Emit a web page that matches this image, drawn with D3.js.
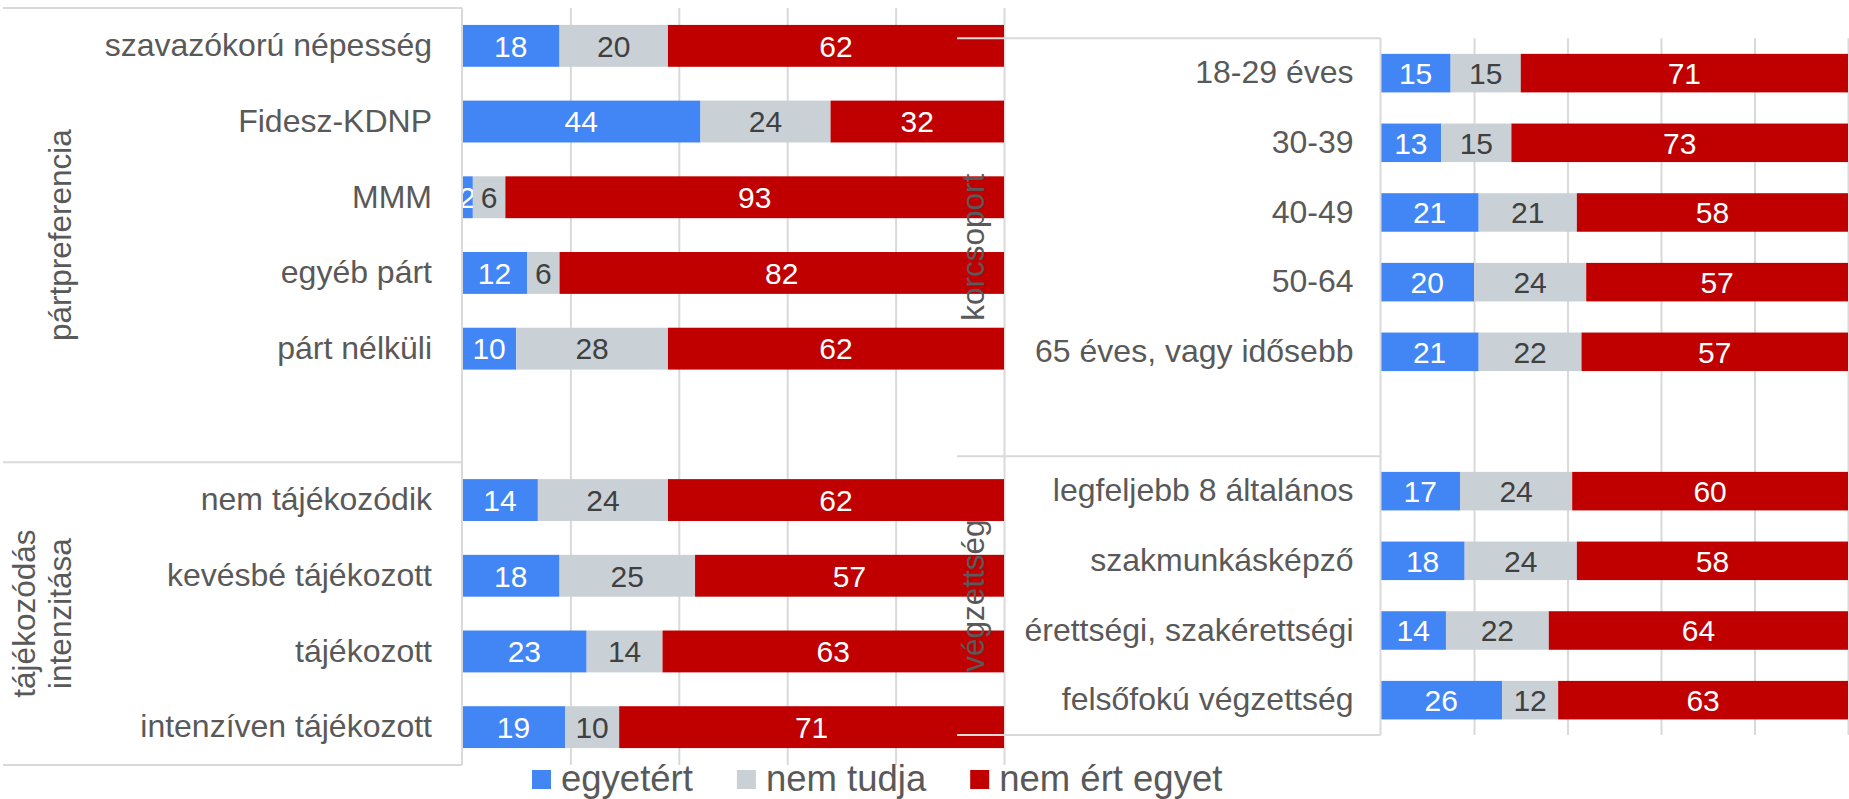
<!DOCTYPE html>
<html>
<head>
<meta charset="utf-8">
<script src="https://cdn.jsdelivr.net/npm/d3@7"></script>
<style>
  body { margin: 0; background: #fff; }
  svg { display: block; font-family: "Liberation Sans", Arial, sans-serif; }
  .grid line { stroke: #d9d9d9; stroke-width: 2; }
  .grid path { display: none; }
  .frame { stroke: #d9d9d9; stroke-width: 2; }
  .cat text { fill: #595959; font-size: 32px; }
  .grp { fill: #595959; font-size: 31.5px; }
  .lbl { font-size: 30px; }
</style>
</head>
<body>
<svg width="1849" height="799"></svg>
<script>
// series
var series = ["egyetért", "nem tudja", "nem ért egyet"];
var colors = ["#4285f4", "#c9d1d6", "#c00000"];
var labelColors = ["#ffffff", "#404040", "#ffffff"];

// left chart
var leftGroups = [["pártpreferencia"], ["tájékozódás", "intenzitása"]];
var leftGroupSizes = [6, 4];
var leftCats = ["szavazókorú népesség", "Fidesz-KDNP", "MMM", "egyéb párt", "párt nélküli", "",
  "nem tájékozódik", "kevésbé tájékozott", "tájékozott", "intenzíven tájékozott"];
var leftAgree = [18, 44, 2, 12, 10, null, 14, 18, 23, 19];
var leftDontKnow = [20, 24, 6, 6, 28, null, 24, 25, 14, 10];
var leftDisagree = [62, 32, 93, 82, 62, null, 62, 57, 63, 71];

// right chart
var rightGroups = [["korcsoport"], ["végzettség"]];
var rightGroupSizes = [6, 4];
var rightCats = ["18-29 éves", "30-39", "40-49", "50-64", "65 éves, vagy idősebb", "",
  "legfeljebb 8 általános", "szakmunkásképző", "érettségi, szakérettségi", "felsőfokú végzettség"];
var rightAgree = [15, 13, 21, 20, 21, null, 17, 18, 14, 26];
var rightDontKnow = [15, 15, 21, 24, 22, null, 24, 24, 22, 12];
var rightDisagree = [71, 73, 58, 57, 57, null, 60, 58, 64, 63];

var svg = d3.select("svg");

function drawChart(cfg) {
  var g = svg.append("g");
  var n = cfg.cats.length;
  var x = d3.scaleLinear().domain([0, 100]).range([cfg.x0, cfg.x1]);
  var y = d3.scaleBand().domain(d3.range(n)).range([cfg.y0, cfg.y1])
    .paddingInner(0.447).paddingOuter(0.2235);

  // gridlines
  g.append("g").attr("class", "grid")
    .attr("transform", "translate(0," + cfg.y1 + ")")
    .call(d3.axisBottom(x).tickValues([20, 40, 60, 80, 100])
      .tickSize(-(cfg.y1 - cfg.y0)).tickFormat(""));

  var rows = d3.range(n).map(function (i) {
    return { i: i, a: cfg.a[i], b: cfg.b[i], c: cfg.c[i] };
  }).filter(function (d) { return d.a != null; });

  var stack = d3.stack().keys(["a", "b", "c"])(rows);

  var clipId = "clip" + cfg.id;
  g.append("clipPath").attr("id", clipId).append("rect")
    .attr("x", cfg.x0).attr("y", cfg.y0)
    .attr("width", cfg.x1 - cfg.x0).attr("height", cfg.y1 - cfg.y0);

  var layers = g.append("g").attr("clip-path", "url(#" + clipId + ")")
    .selectAll("g").data(stack).enter().append("g")
    .attr("fill", function (d, k) { return colors[k]; });

  layers.selectAll("rect").data(function (d) { return d; }).enter().append("rect")
    .attr("x", function (d) { return x(d[0]); })
    .attr("y", function (d) { return y(d.data.i); })
    .attr("width", function (d) { return x(d[1]) - x(d[0]); })
    .attr("height", y.bandwidth());

  layers.selectAll("text").data(function (d, k) {
      return d.map(function (s) { return { s: s, k: k }; });
    }).enter().append("text")
    .attr("class", "lbl")
    .attr("fill", function (d) { return labelColors[d.k]; })
    .attr("text-anchor", "middle")
    .attr("dy", "0.36em")
    .attr("x", function (d) { return (x(d.s[0]) + x(Math.min(d.s[1], 100))) / 2; })
    .attr("y", function (d) { return y(d.s.data.i) + y.bandwidth() / 2; })
    .text(function (d) { return d.s[1] - d.s[0]; });

  // category axis
  g.append("g").attr("class", "cat")
    .attr("transform", "translate(" + cfg.x0 + ",0)")
    .call(d3.axisLeft(y).tickSize(0).tickPadding(cfg.pad)
      .tickFormat(function (i) { return cfg.cats[i]; }))
    .call(function (a) { a.select(".domain").remove(); });

  // multi-level axis frame
  var edges = [0];
  cfg.sizes.forEach(function (s, k) { edges.push(edges[k] + s); });
  var ey = edges.map(function (e) { return cfg.y0 + e * y.step(); });
  g.selectAll("line.h").data(ey).enter().append("line")
    .attr("class", "frame")
    .attr("x1", cfg.fx).attr("x2", cfg.x0)
    .attr("y1", function (d) { return d; }).attr("y2", function (d) { return d; });
  g.append("line").attr("class", "frame")
    .attr("x1", cfg.x0).attr("x2", cfg.x0).attr("y1", cfg.y0).attr("y2", cfg.y1);

  // group titles
  cfg.groups.forEach(function (lines, k) {
    var cy = (ey[k] + ey[k + 1]) / 2;
    lines.forEach(function (t, j) {
      var bx = cfg.gx - (lines.length - 1 - j) * 36;
      g.append("text").attr("class", "grp")
        .attr("text-anchor", "middle")
        .attr("transform", "translate(" + bx + "," + cy + ") rotate(-90)")
        .text(t);
    });
  });
}

drawChart({
  id: "L", cats: leftCats, groups: leftGroups, sizes: leftGroupSizes,
  a: leftAgree, b: leftDontKnow, c: leftDisagree,
  x0: 462, x1: 1004, y0: 8, y1: 765, fx: 3, pad: 30, gx: 71
});
drawChart({
  id: "R", cats: rightCats, groups: rightGroups, sizes: rightGroupSizes,
  a: rightAgree, b: rightDontKnow, c: rightDisagree,
  x0: 1380.5, x1: 1848, y0: 38.3, y1: 735, fx: 957, pad: 27, gx: 984
});

// legend
var legend = svg.append("g").attr("class", "legend");
var lx = 532;
series.forEach(function (s, k) {
  legend.append("rect").attr("x", lx).attr("y", 770)
    .attr("width", 19).attr("height", 19).attr("fill", colors[k]);
  var t = legend.append("text").attr("x", lx + 29).attr("y", 791)
    .attr("fill", "#595959").style("font-size", "36.5px").text(s);
  lx += 29 + t.node().getComputedTextLength() + 44;
});
</script>
</body>
</html>
